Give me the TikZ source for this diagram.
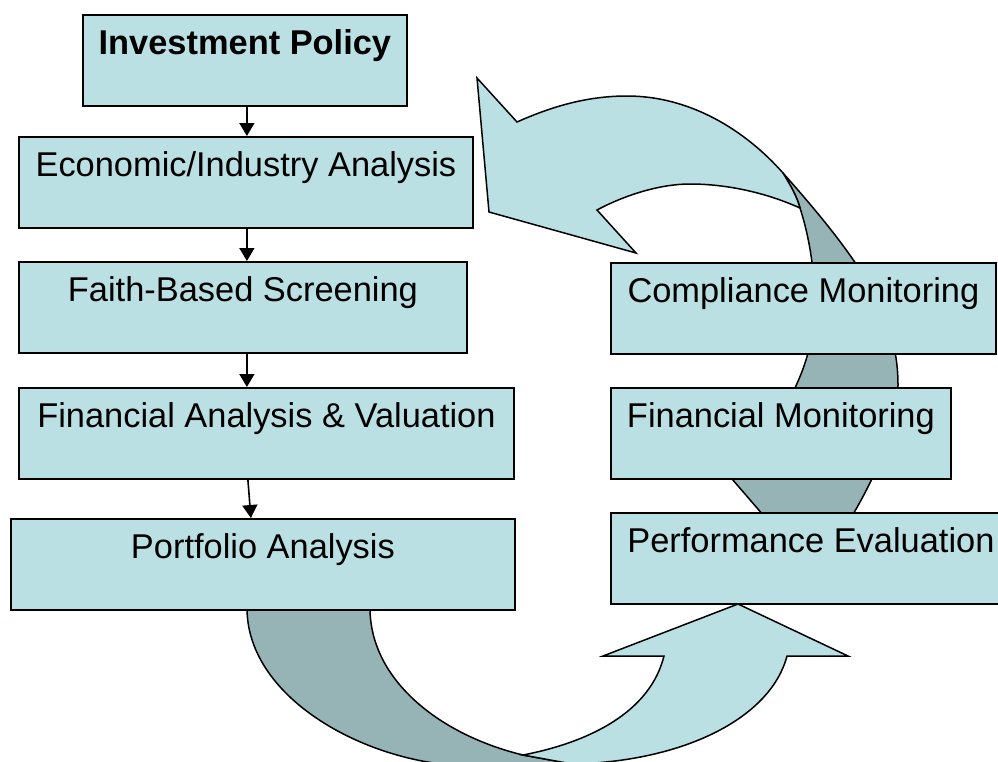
\documentclass[tikz,border=0pt]{standalone}
\usepackage{fontspec}
\setmainfont{Liberation Sans}
\usetikzlibrary{arrows.meta}
\definecolor{lightfill}{RGB}{186,224,227}
\definecolor{darkfill}{RGB}{150,179,182}
\begin{document}
\begin{tikzpicture}[x=1pt,y=-1pt,
  box/.style={draw=black, line width=1.8pt, fill=lightfill, inner sep=0pt,
    text height=40pt, text depth=51pt, anchor=north west,
    font=\fontsize{34.4}{40}\selectfont},
  conn/.style={line width=1.6pt, -{Triangle[width=15pt,length=13pt]}},
  backband/.style={fill=darkfill, draw=black, line width=1.5pt, line join=round},
  frontband/.style={fill=lightfill, draw=black, line width=1.5pt, line join=miter}]
\useasboundingbox (0,0) rectangle (998,761);

% top curved arrow: back (dark) band
\filldraw[backband] (783,173) .. controls (860,260) and (898,315) .. (898,385)
  .. controls (898,440) and (860,510) .. (814,574) -- (726,472)
  .. controls (770,440) and (800,390) .. (810,345)
  .. controls (820,300) and (812,245) .. (800,208)
  .. controls (797,197) and (791,186) .. (783,173) -- cycle;
% top curved arrow: front (light) band with head
\filldraw[frontband] (597,210) -- (636,253) -- (489,212) -- (477,78) -- (517,122)
  .. controls (555,105) and (590,96) .. (627,96)
  .. controls (690,96) and (745,130) .. (783,173)
  .. controls (791,186) and (797,197) .. (800,208)
  .. controls (760,190) and (720,184) .. (690,184)
  .. controls (660,184) and (625,195) .. (597,210) -- cycle;

% bottom curved arrow: back (dark) band
\filldraw[backband] (247,590) -- (247,608) .. controls (247,700) and (370,765) .. (470,766)
  .. controls (510,767) and (545,766) .. (572,764) -- (523,755)
  .. controls (440,735) and (370,680) .. (370,608) -- (370,590) -- cycle;
% bottom curved arrow: front (light) band with head
\filldraw[frontband] (523,755) -- (572,764) .. controls (680,762) and (770,720) .. (787,656)
  -- (848,656) -- (738,604) -- (603,656) -- (664,656)
  .. controls (650,712) and (590,742) .. (523,755) -- cycle;

% left column
\node[box, minimum width=324pt] (ip) at (82,14) {\bfseries Investment Policy};
\node[box, minimum width=454pt] (econ) at (18,136) {Economic/Industry Analysis};
\node[box, minimum width=448pt] (faith) at (18,261) {Faith-Based Screening};
\node[box, minimum width=495pt] (fav) at (18,387) {Financial Analysis \& Valuation};
\node[box, minimum width=504pt] (port) at (10,518) {Portfolio Analysis};

% right column
\node[box, minimum width=385pt] (comp) at (610,262) {Compliance Monitoring};
\node[box, minimum width=340pt] (fm) at (610,387) {Financial Monitoring};
\node[box, minimum width=400pt] (pe) at (610,512) {Performance Evaluation};

% connectors
\draw[conn] ([xshift=2pt]ip.south) -- ([xshift=1pt]econ.north);
\draw[conn] ([xshift=1pt]econ.south) -- ([xshift=4pt]faith.north);
\draw[conn] ([xshift=4pt]faith.south) -- ([xshift=-19.5pt]fav.north);
\draw[conn] ([xshift=-18.5pt]fav.south) -- ([xshift=-12pt]port.north);
\end{tikzpicture}
\end{document}
